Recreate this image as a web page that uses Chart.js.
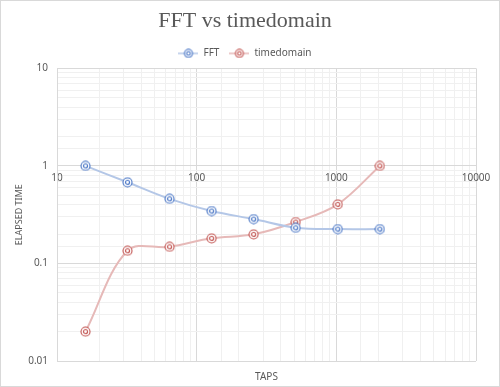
<!DOCTYPE html>
<html>
<head>
<meta charset="utf-8">
<script src="https://cdn.jsdelivr.net/npm/chart.js@4"></script>
<style>
  html, body { margin: 0; padding: 0; background: #fff; }
  #wrap { width: 500px; height: 387px; }
</style>
</head>
<body>
<div id="wrap"><canvas id="chart" width="500" height="387"></canvas></div>
<script>
const taps = [16, 32, 64, 128, 256, 512, 1024, 2048];
const fftTime = [1.0, 0.68, 0.46, 0.345, 0.285, 0.232, 0.225, 0.225];
const timedomainTime = [0.02, 0.135, 0.148, 0.181, 0.199, 0.266, 0.404, 1.0];
const xTickLabels = [10, 100, 1000, 10000];
const yTickLabels = [0.01, 0.1, 1, 10];

const textColor = '#595959';

// target-like marker: outer ring + inner ring
function makeMarker(color, size) {
    const c = document.createElement('canvas');
    c.width = size; c.height = size;
    const g = c.getContext('2d');
    const m = size / 2;
    g.strokeStyle = color;
    g.lineWidth = 1.1;
    g.fillStyle = '#fff';
    g.beginPath(); g.arc(m, m, m - 1, 0, Math.PI * 2); g.fill(); g.stroke();
    g.beginPath(); g.arc(m, m, (m - 1) * 0.45, 0, Math.PI * 2); g.stroke();
    return c;
}

function makeLegendIcon(color, lineColor) {
    const c = document.createElement('canvas');
    c.width = 20; c.height = 10;
    const g = c.getContext('2d');
    g.strokeStyle = lineColor;
    g.lineWidth = 1.5;
    g.beginPath(); g.moveTo(0, 5); g.lineTo(20, 5); g.stroke();
    g.drawImage(makeMarker(color, 10), 5, 0);
    return c;
}

const fftMarker = makeMarker('#4472c4', 11);
const tdMarker = makeMarker('#c0504d', 11);

const frame = {
    id: 'frame',
    beforeDraw(chart) {
        const ctx = chart.ctx;
        ctx.save();
        ctx.fillStyle = '#fff';
        ctx.fillRect(0, 0, chart.width, chart.height);
        ctx.strokeStyle = '#d9d9d9';
        ctx.lineWidth = 1;
        ctx.strokeRect(0.5, 0.5, chart.width - 1, chart.height - 1);
        ctx.restore();
    }
};

const gridColor = (c) => (c.tick && c.tick.major) ? '#d9d9d9' : '#f0f0f0';

new Chart(document.getElementById('chart'), {
    type: 'scatter',
    data: {
        datasets: [{
            label: 'FFT',
            data: taps.map((t, i) => ({ x: t, y: fftTime[i] })),
            showLine: true,
            borderColor: '#b4c7e7',
            borderWidth: 2,
            tension: 0.35,
            pointStyle: fftMarker,
            pointRadius: 5,
            pointHoverRadius: 5
        }, {
            label: 'timedomain',
            data: taps.map((t, i) => ({ x: t, y: timedomainTime[i] })),
            showLine: true,
            borderColor: '#e6b9b8',
            borderWidth: 2,
            tension: 0.35,
            pointStyle: tdMarker,
            pointRadius: 5,
            pointHoverRadius: 5
        }]
    },
    options: {
        responsive: false,
        animation: false,
        layout: { padding: { left: 14, right: 24, top: 6, bottom: 4 } },
        plugins: {
            title: {
                display: true,
                text: 'FFT vs timedomain',
                color: textColor,
                font: { family: 'Liberation Serif', size: 22, weight: 'normal' },
                padding: { top: 2, bottom: 4 }
            },
            legend: {
                display: true,
                labels: {
                    color: textColor,
                    font: { family: 'Noto Sans', size: 10 },
                    usePointStyle: true,
                    pointStyleWidth: 20,
                    boxHeight: 10,
                    padding: 10,
                    generateLabels: () => [
                        { text: 'FFT', pointStyle: makeLegendIcon('#4472c4', '#b4c7e7'), fontColor: textColor, datasetIndex: 0, lineWidth: 0 },
                        { text: 'timedomain', pointStyle: makeLegendIcon('#c0504d', '#e6b9b8'), fontColor: textColor, datasetIndex: 1, lineWidth: 0 }
                    ]
                }
            },
            tooltip: { enabled: false }
        },
        scales: {
            x: {
                type: 'logarithmic',
                position: { y: 1 },
                min: 10,
                max: 10000,
                grid: { color: gridColor, drawTicks: false },
                border: { color: '#d9d9d9' },
                ticks: {
                    color: textColor,
                    font: { family: 'Noto Sans', size: 10 },
                    padding: 6,
                    autoSkip: false,
                    maxRotation: 0,
                    callback: (v) => xTickLabels.includes(v) ? String(v) : ''
                }
            },
            xTitle: {
                type: 'logarithmic',
                position: 'bottom',
                min: 10,
                max: 10000,
                grid: { display: false },
                border: { display: false },
                ticks: { display: false },
                title: {
                    display: true,
                    text: 'TAPS',
                    color: textColor,
                    font: { family: 'Noto Sans', size: 10 },
                    padding: { top: 2, bottom: 0 }
                },
                afterFit: (s) => { s.height = 22; }
            },
            y: {
                type: 'logarithmic',
                min: 0.01,
                max: 10,
                grid: { color: gridColor, drawTicks: false },
                border: { color: '#d9d9d9' },
                ticks: {
                    color: textColor,
                    font: { family: 'Noto Sans', size: 10 },
                    padding: 9,
                    autoSkip: false,
                    callback: (v) => yTickLabels.includes(v) ? String(v) : ''
                },
                title: {
                    display: true,
                    text: 'ELAPSED TIME',
                    color: textColor,
                    font: { family: 'Noto Sans', size: 9 },
                    padding: { top: 0, bottom: 4 }
                },
                afterFit: (s) => { s.width = 43; }
            }
        }
    },
    plugins: [frame]
});
</script>
</body>
</html>
